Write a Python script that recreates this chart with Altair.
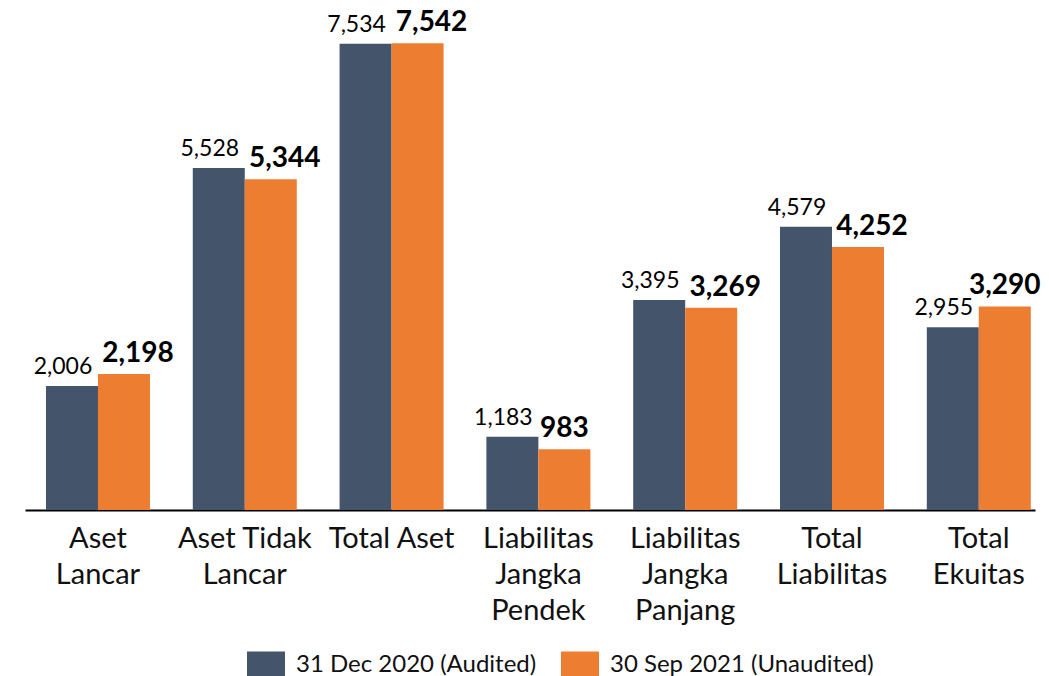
import altair as alt
import pandas as pd

categories = [
    "Aset\nLancar",
    "Aset Tidak\nLancar",
    "Total Aset",
    "Liabilitas\nJangka\nPendek",
    "Liabilitas\nJangka\nPanjang",
    "Total\nLiabilitas",
    "Total\nEkuitas",
]
series = ["31 Dec 2020 (Audited)", "30 Sep 2021 (Unaudited)"]
values_2020 = [2006, 5528, 7534, 1183, 3395, 4579, 2955]
values_2021 = [2198, 5344, 7542, 983, 3269, 4252, 3290]
colors = ["#44546A", "#ED7D31"]
# categories whose bold label sits centred over its bar (no room / no clash)
centered_labels = ["Liabilitas\nJangka\nPendek", "Total\nEkuitas"]

rows = []
for c, a, b in zip(categories, values_2020, values_2021):
    rows.append({"category": c, "series": series[0], "value": a})
    rows.append({"category": c, "series": series[1], "value": b})
df = pd.DataFrame(rows)

FONT = "Lato"

x_enc = alt.X(
    "category:N",
    sort=categories,
    scale=alt.Scale(paddingInner=0.2916, paddingOuter=0.0858, align=0.833, round=False),
    axis=alt.Axis(
        title=None,
        labelAngle=0,
        labelExpr="split(datum.value, '\\n')",
        labelFontSize=29,
        labelFont=FONT,
        labelColor="#111111",
        labelLineHeight=36,
        labelPadding=14,
        labelBaseline="top",
        labelLimit=0,
        ticks=False,
        domainColor="#000000",
        domainWidth=2,
        grid=False,
    ),
)
xoff_enc = alt.XOffset(
    "series:N", sort=series,
    scale=alt.Scale(domain=series, paddingInner=0, paddingOuter=0, round=False),
)
y_enc = alt.Y("value:Q", scale=alt.Scale(domain=[0, 8000]), axis=None)

base = alt.Chart(df)

bars = base.mark_bar().encode(
    x=x_enc,
    xOffset=xoff_enc,
    y=y_enc,
    color=alt.Color(
        "series:N",
        sort=series,
        scale=alt.Scale(domain=series, range=colors),
        legend=alt.Legend(
            title=None,
            orient="none",
            legendX=222,
            legendY=631,
            direction="horizontal",
            symbolType="M-1,-0.74H1V0.74H-1Z",
            symbolSize=1444,
            symbolStrokeWidth=0,
            labelFontSize=24,
            labelFont=FONT,
            labelColor="#111111",
            labelOffset=11,
            labelLimit=0,
            columnPadding=24,
            padding=0,
        ),
    ),
)

labels_2020 = base.transform_filter(
    alt.datum.series == series[0]
).mark_text(
    dx=-9, dy=-12, baseline="alphabetic", fontSize=23, font=FONT, color="#000000"
).encode(
    x=x_enc, xOffset=xoff_enc, y=y_enc, text=alt.Text("value:Q", format=",")
)

orange_base = base.transform_filter(alt.datum.series == series[1])

labels_2021_shift = orange_base.transform_filter(
    {"not": alt.FieldOneOfPredicate(field="category", oneOf=centered_labels)}
).mark_text(
    dx=14, dy=-12, baseline="alphabetic", fontSize=28, fontWeight="bold",
    font=FONT, color="#000000"
).encode(
    x=x_enc, xOffset=xoff_enc, y=y_enc, text=alt.Text("value:Q", format=",")
)

labels_2021_center = orange_base.transform_filter(
    alt.FieldOneOfPredicate(field="category", oneOf=centered_labels)
).mark_text(
    dx=0, dy=-12, baseline="alphabetic", fontSize=28, fontWeight="bold",
    font=FONT, color="#000000"
).encode(
    x=x_enc, xOffset=xoff_enc, y=y_enc, text=alt.Text("value:Q", format=",")
)

chart = alt.layer(bars, labels_2020, labels_2021_shift, labels_2021_center).properties(
    width=1010,
    height=495,
    autosize=alt.AutoSizeParams(type="none"),
    padding={"left": 17, "top": 7, "right": 6, "bottom": 168},
).configure_view(stroke=None)

chart.save("out.html", embed_options={"renderer": "svg", "actions": False})
